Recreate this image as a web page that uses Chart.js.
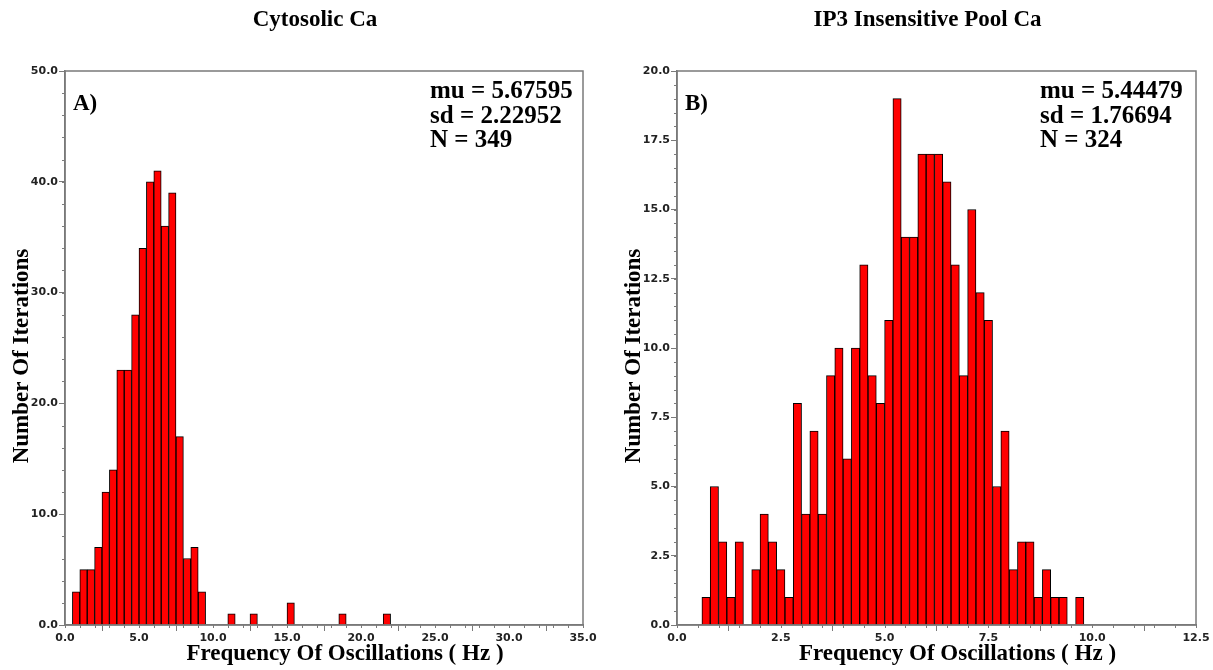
<!DOCTYPE html>
<html>
<head>
<meta charset="utf-8">
<title>Frequency of oscillations</title>
<script src="https://cdn.jsdelivr.net/npm/chart.js@4.4.1/dist/chart.umd.min.js"></script>
<style>
  html, body { margin: 0; padding: 0; background: #fff; }
  #wrap { position: relative; width: 1213px; height: 670px; }
  .panel { position: absolute; top: 0; }
  #cytoPanel { left: 0; }
  #poolPanel { left: 606px; }
</style>
</head>
<body>
<div id="wrap">
  <div class="panel" id="cytoPanel"><canvas id="cytoChart" width="606" height="670"></canvas></div>
  <div class="panel" id="poolPanel"><canvas id="poolChart" width="607" height="670"></canvas></div>
</div>
<script>
// Cytosolic Ca histogram: 0.5 Hz bins from 0.5 Hz
const cytoBinStart = 0.5;
const cytoBinWidth = 0.5;
const cytoCounts = [
    3, 5, 5, 7, 12, 14, 23, 23, 28, 34, 40, 41, 36, 39, 17, 6, 7, 3,
    0, 0, 0, 1, 0, 0, 1, 0, 0, 0, 0, 2, 0, 0, 0, 0, 0, 0, 1, 0, 0, 0, 0, 0, 1
];
const cytoXTicks = [0, 5, 10, 15, 20, 25, 30, 35];
const cytoYTicks = [0, 10, 20, 30, 40, 50];
const cytoStats = ['mu = 5.67595', 'sd = 2.22952', 'N = 349'];

// IP3 insensitive pool Ca histogram: 0.2 Hz bins from 0.6 Hz
const poolBinStart = 0.6;
const poolBinWidth = 0.2;
const poolCounts = [
    1, 5, 3, 1, 3, 0, 2, 4, 3, 2, 1, 8, 4, 7, 4, 9, 10, 6, 10, 13,
    9, 8, 11, 19, 14, 14, 17, 17, 17, 16, 13, 9, 15, 12, 11, 5, 7, 2, 3, 3,
    1, 2, 1, 1, 0, 1
];
const poolXTicks = [0, 2.5, 5, 7.5, 10, 12.5];
const poolYTicks = [0, 2.5, 5, 7.5, 10, 12.5, 15, 17.5, 20];
const poolStats = ['mu = 5.44479', 'sd = 1.76694', 'N = 324'];

const AXIS_GREY = '#7a7a7a';
const SERIF = '"Liberation Serif", "Times New Roman", serif';
const tickFont = { family: '"DejaVu Sans", Verdana, sans-serif', size: 11, weight: 'bold' };

// Frame, minor ticks and all captions
const histogramDecor = {
    id: 'histogramDecor',
    afterDraw(chart, args, opts) {
        const { ctx, chartArea: a, scales } = chart;
        const midX = (a.left + a.right) / 2;
        const midY = (a.top + a.bottom) / 2;
        ctx.save();

        ctx.strokeStyle = AXIS_GREY;
        ctx.lineWidth = 1.5;
        ctx.strokeRect(a.left, a.top, a.right - a.left, a.bottom - a.top);

        // minor ticks
        ctx.lineWidth = 1;
        ctx.beginPath();
        for (let v = scales.x.min; v <= scales.x.max + 1e-9; v += opts.xMinor) {
            const px = Math.round(scales.x.getPixelForValue(v)) + 0.5;
            ctx.moveTo(px, a.bottom);
            ctx.lineTo(px, a.bottom + 3);
        }
        for (let v = scales.y.min; v <= scales.y.max + 1e-9; v += opts.yMinor) {
            const py = Math.round(scales.y.getPixelForValue(v)) + 0.5;
            ctx.moveTo(a.left, py);
            ctx.lineTo(a.left - 3, py);
        }
        ctx.stroke();

        ctx.fillStyle = '#000';
        ctx.font = 'bold 23px ' + SERIF;

        ctx.textAlign = 'center';
        ctx.fillText(opts.title, midX - 9, 26);
        ctx.fillText('Frequency Of Oscillations ( Hz )', midX + 21, 660);

        ctx.save();
        ctx.translate(opts.yTitleX, midY + 8);
        ctx.rotate(-Math.PI / 2);
        ctx.fillText('Number Of Iterations', 0, 0);
        ctx.restore();

        ctx.textAlign = 'left';
        ctx.fillText(opts.panel, a.left + 8, 110);
        ctx.font = 'bold 25px ' + SERIF;
        opts.stats.forEach((line, i) => ctx.fillText(line, opts.statsX, 98 + i * 24.5));

        ctx.restore();
    }
};

function histogramPoints(start, width, counts) {
    return counts
        .map((c, i) => ({ x: start + width * (i + 0.5), y: c }))
        .filter(p => p.y > 0);
}

function fixedTicks(values) {
    return scale => { scale.ticks = values.map(v => ({ value: v })); };
}

function makeHistogram(id, cfg) {
    const ctx = document.getElementById(id);
    return new Chart(ctx, {
        type: 'bar',
        data: {
            datasets: [{
                data: histogramPoints(cfg.binStart, cfg.binWidth, cfg.counts),
                backgroundColor: '#ff0000',
                borderColor: '#000',
                borderWidth: 1,
                borderSkipped: 'start',
                barPercentage: 1,
                categoryPercentage: 1
            }]
        },
        options: {
            responsive: false,
            animation: false,
            devicePixelRatio: 1,
            layout: { padding: { left: 0, top: 71, right: cfg.padRight, bottom: 0 } },
            plugins: {
                legend: { display: false },
                tooltip: { enabled: false },
                histogramDecor: {
                    title: cfg.title,
                    panel: cfg.panel,
                    stats: cfg.stats,
                    statsX: cfg.statsX,
                    yTitleX: cfg.yTitleX,
                    xMinor: cfg.xMinor,
                    yMinor: cfg.yMinor
                }
            },
            scales: {
                x: {
                    type: 'linear',
                    min: cfg.xTicks[0],
                    max: cfg.xTicks[cfg.xTicks.length - 1],
                    offset: false,
                    afterBuildTicks: fixedTicks(cfg.xTicks),
                    afterFit: s => { s.height = 45; },
                    grid: { drawOnChartArea: false, tickLength: 6, tickColor: AXIS_GREY },
                    border: { color: AXIS_GREY, width: 1.5 },
                    ticks: {
                        font: tickFont,
                        color: '#222',
                        padding: 1,
                        maxRotation: 0,
                        autoSkip: false,
                        callback: v => Number(v).toFixed(1)
                    }
                },
                y: {
                    min: cfg.yTicks[0],
                    max: cfg.yTicks[cfg.yTicks.length - 1],
                    afterBuildTicks: fixedTicks(cfg.yTicks),
                    afterFit: s => { s.width = cfg.yAxisWidth; },
                    grid: { drawOnChartArea: false, tickLength: 6, tickColor: AXIS_GREY },
                    border: { color: AXIS_GREY, width: 1.5 },
                    ticks: {
                        font: tickFont,
                        color: '#222',
                        padding: 1,
                        autoSkip: false,
                        callback: v => Number(v).toFixed(1)
                    }
                }
            }
        },
        plugins: [histogramDecor]
    });
}

makeHistogram('cytoChart', {
    binStart: cytoBinStart, binWidth: cytoBinWidth, counts: cytoCounts,
    xTicks: cytoXTicks, yTicks: cytoYTicks, xMinor: 1, yMinor: 2,
    title: 'Cytosolic Ca', panel: 'A)', stats: cytoStats,
    statsX: 430, yTitleX: 28, yAxisWidth: 65, padRight: 23
});

makeHistogram('poolChart', {
    binStart: poolBinStart, binWidth: poolBinWidth, counts: poolCounts,
    xTicks: poolXTicks, yTicks: poolYTicks, xMinor: 0.5, yMinor: 0.5,
    title: 'IP3 Insensitive Pool Ca', panel: 'B)', stats: poolStats,
    statsX: 434, yTitleX: 34, yAxisWidth: 71, padRight: 17
});
</script>
</body>
</html>
